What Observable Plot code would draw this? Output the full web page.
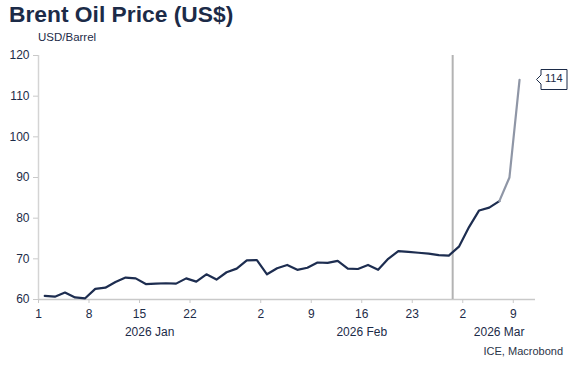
<!DOCTYPE html>
<html><head><meta charset="utf-8">
<script src="https://cdn.jsdelivr.net/npm/d3@7"></script>
<script src="https://cdn.jsdelivr.net/npm/@observablehq/plot@0.6"></script>
<style>
body{margin:0;background:#fff;}
#wrap{position:relative;width:581px;height:370px;font-family:"Liberation Sans",Arial,sans-serif;color:#1c2b48;}
#wrap svg{position:absolute;left:0;top:0;}
#title{position:absolute;left:9px;top:1px;font-size:22.8px;font-weight:bold;color:#1c2b48;white-space:nowrap;}
#unit{position:absolute;left:38px;top:31px;font-size:11.5px;color:#1c2b48;white-space:nowrap;}
#source{position:absolute;right:18px;top:345px;font-size:11px;color:#2b3447;white-space:nowrap;}
g[aria-label="tip"], g[aria-label="tip"] * {filter:none !important;}
</style></head><body>
<div id="wrap">
  <div id="title">Brent Oil Price (US$)</div>
  <div id="unit">USD/Barrel</div>
  <div id="source">ICE, Macrobond</div>
</div>
<script>
// Business days, 1 Jan 2026 – 9 Mar 2026
const dates = d3.utcDays(new Date("2026-01-01"), new Date("2026-03-10")).filter(d => d.getUTCDay() % 6 !== 0);
const prices = [
  60.9, 60.7, 61.7, 60.5, 60.3, 62.6, 62.9, 64.3, 65.4, 65.2,
  63.8, 63.9, 64.0, 63.9, 65.2, 64.4, 66.2, 64.9, 66.7, 67.6,
  69.6, 69.7, 66.2, 67.7, 68.5, 67.3, 67.8, 69.1, 69.0, 69.5,
  67.6, 67.5, 68.5, 67.3, 70.0, 71.9, 71.7, 71.5, 71.3, 70.9,
  70.8, 73.0, 77.8, 81.9, 82.6, 84.2, 90.0, 114.0
];
const tickDates = ["2026-01-01","2026-01-08","2026-01-15","2026-01-22","2026-02-02","2026-02-09","2026-02-16","2026-02-23","2026-03-02","2026-03-09"];
const tickLabels = ["1","8","15","22","2","9","16","23","2","9"];
const monthStarts = ["2026-01-01","2026-02-02","2026-03-02"];
const monthLabels = ["2026 Jan","2026 Feb","2026 Mar"];
const eventDate = "2026-02-27";
const lightFrom = "2026-03-05";
const lastLabel = "114";
const yTicks = [60,70,80,90,100,110,120];

// style constants
const NAVY = "#1c2b48";
const POINT_OFFSET = 0.62;   // points sit inside their day slot
const X_END = 49.2;          // axis extends a little past last day

const key = d => d3.utcFormat("%Y-%m-%d")(d);
const idx = s => dates.findIndex(d => key(d) === s);
const data = dates.map((d, i) => ({i, date: key(d), price: prices[i]}));
const lightIdx = idx(lightFrom);
const tickIdx = tickDates.map(idx);
const monthStartIdx = monthStarts.map(idx);
const monthData = monthLabels.map((m, k) => ({
  label: m,
  x: (monthStartIdx[k] + (k + 1 < monthStartIdx.length ? monthStartIdx[k + 1] : X_END)) / 2
}));
const last = data[data.length - 1];

const chart = Plot.plot({
  width: 581,
  height: 370,
  marginTop: 55,
  marginBottom: 71,
  marginLeft: 38,
  marginRight: 46,
  style: {fontFamily: '"Liberation Sans", Arial, sans-serif', fontSize: "12px", color: NAVY, background: "transparent"},
  x: {domain: [0, X_END], axis: null, label: null},
  y: {domain: [60, 120], axis: null, label: null},
  marks: [
    Plot.ruleY([60], {stroke: "#c9c9c9", strokeWidth: 1.5}),
    Plot.ruleX([0], {stroke: "#d4d4d4", strokeWidth: 1.5}),
    Plot.axisY({ticks: yTicks, label: null, tickSize: 5, tickPadding: 4, stroke: "#c9c9c9", fill: NAVY, fontSize: 12}),
    Plot.axisX({ticks: tickIdx, label: null, tickSize: 4, tickPadding: 6, stroke: "#c9c9c9", fill: NAVY, fontSize: 12,
      tickFormat: v => tickLabels[tickIdx.indexOf(v)]}),
    Plot.text(monthData, {x: "x", frameAnchor: "bottom", text: "label", lineAnchor: "top", dy: 28, fontSize: 12, fill: NAVY}),
    Plot.ruleX([idx(eventDate)], {stroke: "#b3b3b3", strokeWidth: 2}),
    Plot.line(data.filter(d => d.i <= lightIdx), {x: d => d.i + POINT_OFFSET, y: "price", stroke: "#1d2d50", strokeWidth: 2.2}),
    Plot.line(data.filter(d => d.i >= lightIdx), {x: d => d.i + POINT_OFFSET, y: "price", stroke: "#8f96a6", strokeWidth: 2.2}),
    Plot.tip([last], {x: d => d.i + POINT_OFFSET, y: "price", title: () => lastLabel, anchor: "left", dx: 17,
      fontSize: 11, textPadding: 4, pointerSize: 9, stroke: NAVY, fill: "white"})
  ]
});
document.getElementById("wrap").prepend(chart);
</script>
</body></html>
